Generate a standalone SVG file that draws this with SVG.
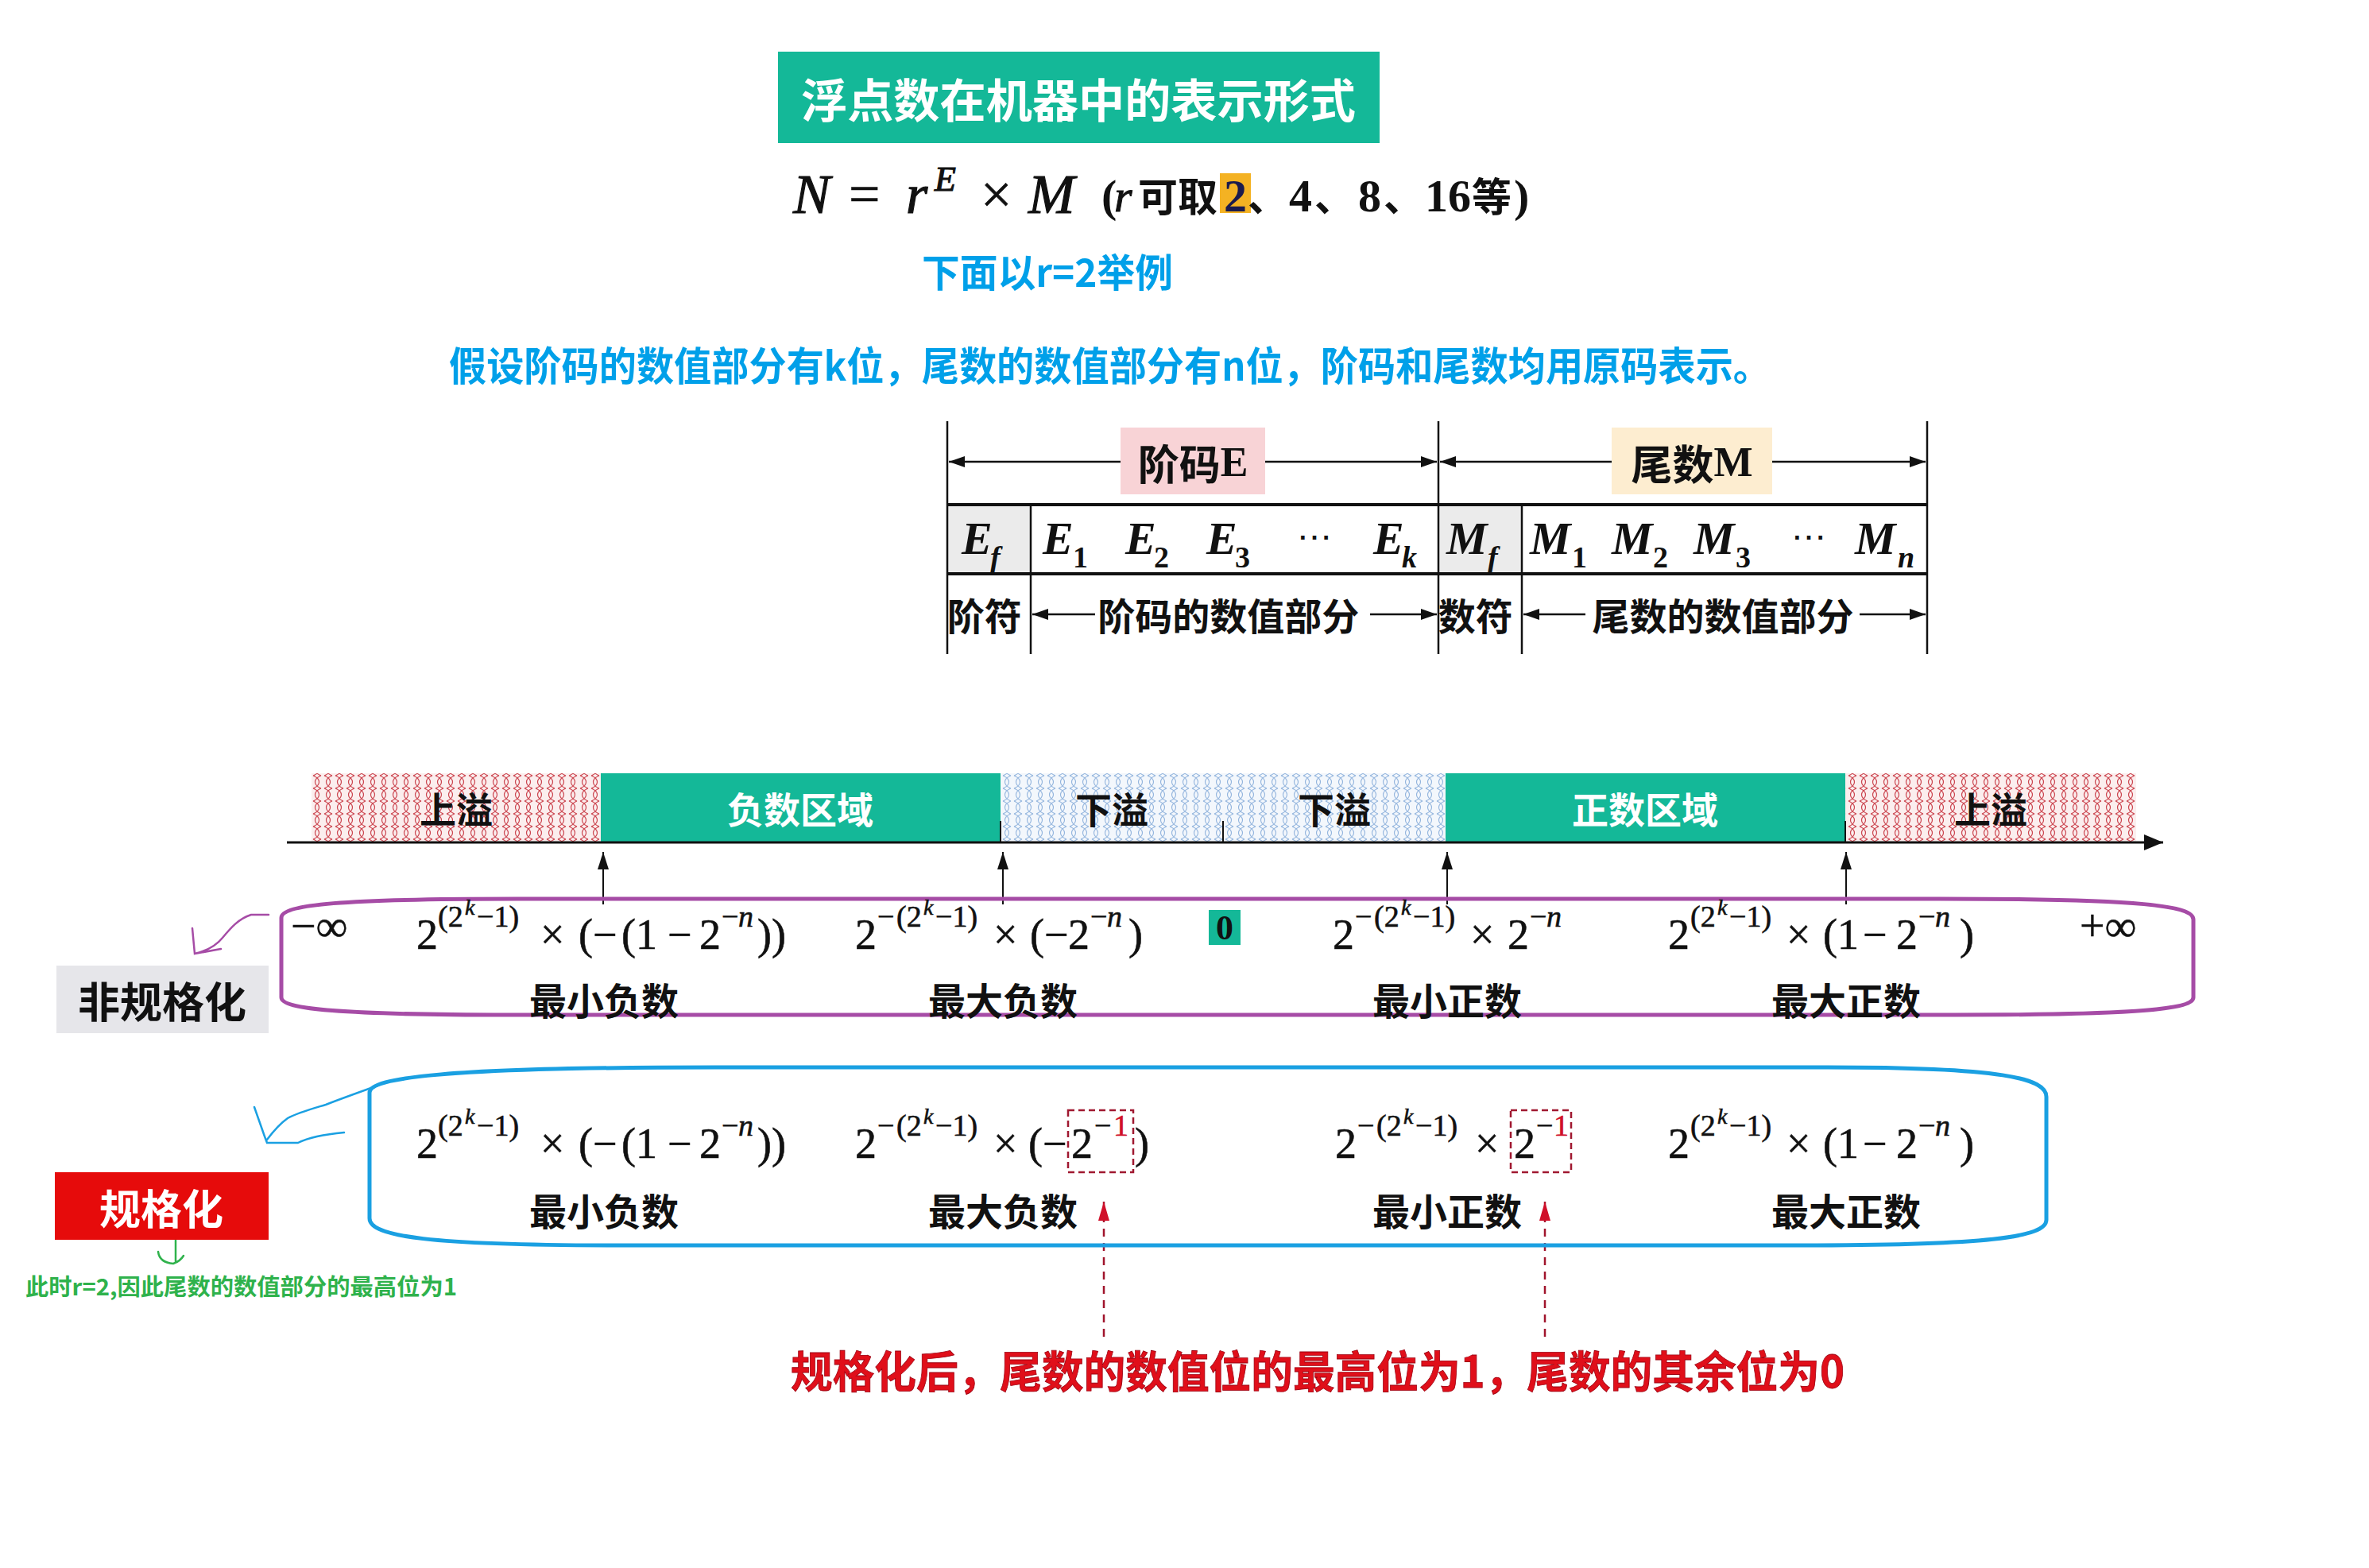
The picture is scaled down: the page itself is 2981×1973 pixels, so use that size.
<svg xmlns="http://www.w3.org/2000/svg" width="2981" height="1973" viewBox="0 0 2981 1973">
<style>
.cjk{font-family:"Noto Sans CJK SC","Noto Sans",sans-serif;font-weight:700}
.m{font-family:"Liberation Serif","DejaVu Serif",serif;fill:#111}
.e{font-size:54px;stroke:#111;stroke-width:0.6}
.s{font-size:38px}
.ss{font-size:28px;font-style:italic}
.si{font-size:38px;font-style:italic}
.red{fill:#d0102a;stroke:#d0102a}
.lbl{font-size:47px;fill:#111;text-anchor:middle;dominant-baseline:central}
.bar{font-size:46px;text-anchor:middle;dominant-baseline:central}
.cell{font-family:"Liberation Serif","DejaVu Serif",serif;font-style:italic;font-weight:700;font-size:58px;fill:#111}
.sub{font-size:38px}
.tl{stroke:#111;stroke-width:2.5;fill:none}
.ax{stroke:#111;stroke-width:2;fill:none}
</style>
<defs>
<pattern id="hr" width="14" height="16" patternUnits="userSpaceOnUse">
<rect width="14" height="16" fill="#fbeeee"/>
<path d="M2 0 C12 4 12 12 2 16 M12 0 C2 4 2 12 12 16" fill="none" stroke="#cc4650" stroke-width="1.2"/>
</pattern>
<pattern id="hb" width="14" height="16" patternUnits="userSpaceOnUse">
<rect width="14" height="16" fill="#f3f7fc"/>
<path d="M2 0 C12 4 12 12 2 16 M12 0 C2 4 2 12 12 16" fill="none" stroke="#93b5de" stroke-width="1.1"/>
</pattern>
<marker id="ah" viewBox="0 0 20 14" refX="20" refY="7" markerWidth="20" markerHeight="14" markerUnits="userSpaceOnUse" orient="auto-start-reverse">
<path d="M0 0 L20 7 L0 14 Z" fill="#111"/>
</marker>
<marker id="ahs" viewBox="0 0 14 22" refX="7" refY="0" markerWidth="14" markerHeight="22" markerUnits="userSpaceOnUse" orient="0">
<path d="M7 0 L14 22 L0 22 Z" fill="#111"/>
</marker>
<marker id="ahr" viewBox="0 0 14 24" refX="7" refY="0" markerWidth="14" markerHeight="24" markerUnits="userSpaceOnUse" orient="0">
<path d="M7 0 L14 24 L0 24 Z" fill="#d0102a"/>
</marker>
<marker id="axh" viewBox="0 0 24 20" refX="24" refY="10" markerWidth="24" markerHeight="20" markerUnits="userSpaceOnUse" orient="auto">
<path d="M0 0 L24 10 L0 20 Z" fill="#111"/>
</marker>
</defs>
<rect width="2981" height="1973" fill="#fff"/>

<!-- Title -->
<g id="title">
<rect x="979" y="65" width="757" height="115" fill="#14b898"/>
<text class="cjk" x="1008" y="123" font-size="58" fill="#fff" dominant-baseline="central" textLength="698" lengthAdjust="spacingAndGlyphs">浮点数在机器中的表示形式</text>
</g>

<!-- Formula -->
<g id="formula">
<rect x="1535" y="218" width="39" height="50" fill="#f4b223"/>
<text class="m" font-size="70" font-style="italic" stroke="#111" stroke-width="1.2">
<tspan x="998" y="268">N</tspan>
<tspan x="1068" y="268" font-style="normal" stroke-width="0.6">=</tspan>
<tspan x="1140" y="268">r</tspan>
<tspan x="1176" y="240" font-size="44">E</tspan>
<tspan x="1234" y="268" font-style="normal" stroke-width="0.6">×</tspan>
<tspan x="1294" y="268">M</tspan>
</text>
<text class="m" font-size="58" font-weight="700">
<tspan x="1386" y="266">(</tspan>
<tspan x="1402" y="266" font-style="italic" font-weight="400" stroke="#111" stroke-width="1">r</tspan>
</text>
<text class="cjk" x="1432" y="266" font-size="50" fill="#111">可取</text>
<text class="m" font-size="58" font-weight="700">
<tspan x="1540" y="266" fill="#1b1b4d">2</tspan>
<tspan x="1622" y="266">4</tspan>
<tspan x="1709" y="266">8</tspan>
<tspan x="1793" y="266">16</tspan>
<tspan x="1905" y="266">)</tspan>
</text>
<text class="cjk" font-size="50" fill="#111">
<tspan x="1570" y="266">、</tspan>
<tspan x="1654" y="266">、</tspan>
<tspan x="1741" y="266">、</tspan>
<tspan x="1852" y="266">等</tspan>
</text>
</g>

<text id="example" class="cjk" x="1160" y="339" font-size="49" fill="#00a0e9" dominant-baseline="central" textLength="316" lengthAdjust="spacingAndGlyphs">下面以r=2举例</text>
<text id="assume" class="cjk" x="565" y="457" font-size="50" fill="#00a0e9" dominant-baseline="central" textLength="1663" lengthAdjust="spacingAndGlyphs">假设阶码的数值部分有k位，尾数的数值部分有n位，阶码和尾数均用原码表示。</text>

<!-- Format table -->
<g id="format-table">
<rect x="1410" y="538" width="182" height="84" fill="#f8d3d6"/>
<rect x="2028" y="538" width="202" height="84" fill="#fdedd0"/>
<rect x="1192" y="635" width="105" height="87" fill="#ebebeb"/>
<rect x="1810" y="635" width="105" height="87" fill="#ebebeb"/>
<line class="tl" x1="1192" y1="530" x2="1192" y2="823"/>
<line class="tl" x1="1297" y1="635" x2="1297" y2="823"/>
<line class="tl" x1="1810" y1="530" x2="1810" y2="823"/>
<line class="tl" x1="1915" y1="635" x2="1915" y2="823"/>
<line class="tl" x1="2425" y1="530" x2="2425" y2="823"/>
<line x1="1192" y1="635" x2="2425" y2="635" stroke="#111" stroke-width="4"/>
<line x1="1192" y1="722" x2="2425" y2="722" stroke="#111" stroke-width="4"/>
<line class="tl" x1="1410" y1="581" x2="1194" y2="581" marker-end="url(#ah)"/>
<line class="tl" x1="1592" y1="581" x2="1808" y2="581" marker-end="url(#ah)"/>
<line class="tl" x1="2028" y1="581" x2="1812" y2="581" marker-end="url(#ah)"/>
<line class="tl" x1="2230" y1="581" x2="2423" y2="581" marker-end="url(#ah)"/>
<text x="1501" y="581" font-size="52" fill="#111" text-anchor="middle" dominant-baseline="central"><tspan class="cjk">阶码</tspan><tspan font-family="Liberation Serif, serif" font-weight="700">E</tspan></text>
<text x="2129" y="581" font-size="52" fill="#111" text-anchor="middle" dominant-baseline="central"><tspan class="cjk">尾数</tspan><tspan font-family="Liberation Serif, serif" font-weight="700">M</tspan></text>
<text class="cell">
<tspan x="1210" y="697">E</tspan><tspan class="sub" x="1246" y="714">f</tspan>
<tspan x="1312" y="697">E</tspan><tspan class="sub" x="1350" y="714" font-style="normal">1</tspan>
<tspan x="1416" y="697">E</tspan><tspan class="sub" x="1452" y="714" font-style="normal">2</tspan>
<tspan x="1518" y="697">E</tspan><tspan class="sub" x="1554" y="714" font-style="normal">3</tspan>
<tspan x="1632" y="690" font-style="normal" font-weight="400" font-size="44">⋯</tspan>
<tspan x="1728" y="697">E</tspan><tspan class="sub" x="1764" y="714">k</tspan>
<tspan x="1820" y="697">M</tspan><tspan class="sub" x="1872" y="714">f</tspan>
<tspan x="1925" y="697">M</tspan><tspan class="sub" x="1978" y="714" font-style="normal">1</tspan>
<tspan x="2028" y="697">M</tspan><tspan class="sub" x="2080" y="714" font-style="normal">2</tspan>
<tspan x="2131" y="697">M</tspan><tspan class="sub" x="2184" y="714" font-style="normal">3</tspan>
<tspan x="2254" y="690" font-style="normal" font-weight="400" font-size="44">⋯</tspan>
<tspan x="2334" y="697">M</tspan><tspan class="sub" x="2388" y="714">n</tspan>
</text>
<text class="cjk" font-size="47" fill="#111" text-anchor="middle" dominant-baseline="central">
<tspan x="1244" y="772">阶符</tspan>
<tspan x="1551" y="772">阶码的数值部分</tspan>
<tspan x="1862" y="772">数符</tspan>
<tspan x="2168" y="772">尾数的数值部分</tspan>
</text>
<line class="tl" x1="1378" y1="773" x2="1299" y2="773" marker-end="url(#ah)"/>
<line class="tl" x1="1724" y1="773" x2="1808" y2="773" marker-end="url(#ah)"/>
<line class="tl" x1="1995" y1="773" x2="1917" y2="773" marker-end="url(#ah)"/>
<line class="tl" x1="2340" y1="773" x2="2423" y2="773" marker-end="url(#ah)"/>
</g>

<!-- Number line -->
<g id="number-line">
<rect x="392" y="973" width="364" height="87" fill="url(#hr)"/>
<rect x="756" y="973" width="503" height="87" fill="#14b898"/>
<rect x="1259" y="973" width="280" height="87" fill="url(#hb)"/>
<rect x="1539" y="973" width="280" height="87" fill="url(#hb)"/>
<rect x="1819" y="973" width="503" height="87" fill="#14b898"/>
<rect x="2322" y="973" width="366" height="87" fill="url(#hr)"/>
<line x1="361" y1="1060" x2="2722" y2="1060" stroke="#111" stroke-width="3" marker-end="url(#axh)"/>
<line class="ax" x1="1259" y1="1033" x2="1259" y2="1060"/>
<line class="ax" x1="1539" y1="1033" x2="1539" y2="1060"/>
<line class="ax" x1="2322" y1="1033" x2="2322" y2="1060"/>
<text class="cjk bar" x="574" y="1016" fill="#111">上溢</text>
<text class="cjk bar" x="1007" y="1016" fill="#fff">负数区域</text>
<text class="cjk bar" x="1399" y="1016" fill="#111">下溢</text>
<text class="cjk bar" x="1679" y="1016" fill="#111">下溢</text>
<text class="cjk bar" x="2070" y="1016" fill="#fff">正数区域</text>
<text class="cjk bar" x="2505" y="1016" fill="#111">上溢</text>
</g>

<!-- connectors (up arrows to axis, hand-drawn pointers, red dashed) -->
<g id="connectors">
<line class="ax" x1="759" y1="1138" x2="759" y2="1072" marker-end="url(#ahs)"/>
<line class="ax" x1="1262" y1="1138" x2="1262" y2="1072" marker-end="url(#ahs)"/>
<line class="ax" x1="1821" y1="1138" x2="1821" y2="1072" marker-end="url(#ahs)"/>
<line class="ax" x1="2323" y1="1138" x2="2323" y2="1072" marker-end="url(#ahs)"/>
<path d="M338 1151 L316 1151 C300 1156 290 1168 280 1180 C272 1190 262 1196 245 1200 M242 1168 L245 1200 L278 1194" fill="none" stroke="#a64ca6" stroke-width="2.5" stroke-linecap="round"/>
<path d="M478 1365 C450 1375 425 1384 410 1390 C390 1396 375 1400 362 1407 C355 1412 345 1422 336 1434 M320 1393 L333 1430 L336 1438 L375 1438 C385 1433 400 1428 433 1425" fill="none" stroke="#1aa0e2" stroke-width="2.5" stroke-linecap="round"/>
<path d="M221 1555 L221 1588 M199 1575 C200 1583 205 1589 218 1590 C224 1588 228 1585 231 1580" fill="none" stroke="#2fb24c" stroke-width="2.5" stroke-linecap="round"/>
<line x1="1389" y1="1682" x2="1389" y2="1512" stroke="#a0142c" stroke-width="2.5" stroke-dasharray="10 8" marker-end="url(#ahr)"/>
<line x1="1944" y1="1682" x2="1944" y2="1512" stroke="#a0142c" stroke-width="2.5" stroke-dasharray="10 8" marker-end="url(#ahr)"/>
</g>

<!-- Non-normalized -->
<g id="non-normalized">
<rect x="71" y="1215" width="267" height="85" fill="#e6e6ea"/>
<text class="cjk" x="204" y="1258" font-size="53" fill="#111" text-anchor="middle" dominant-baseline="central">非规格化</text>
<path d="M354 1255 L354 1155 C354 1138 430 1131 650 1131 L2440 1131 C2700 1131 2760 1140 2760 1157 L2760 1255 C2760 1269 2700 1277 2460 1277 L640 1277 C430 1277 354 1270 354 1255 Z" fill="none" stroke="#a64ca6" stroke-width="5"/>
<text class="m" font-size="56" stroke="#111" stroke-width="0.5"><tspan x="366" y="1184">−∞</tspan><tspan x="2617" y="1184">+∞</tspan></text>
<rect x="1521" y="1145" width="40" height="44" fill="#14b898"/>
<text class="m" x="1541" y="1182" font-size="44" font-weight="700" text-anchor="middle">0</text>
<text class="m e">
<tspan x="524" y="1194">2</tspan><tspan class="s" x="551" y="1166">(2</tspan><tspan class="ss" x="585" y="1151">k</tspan><tspan class="s" x="600" y="1166">−1)</tspan>
<tspan x="680" y="1194">×</tspan><tspan x="728" y="1194">(</tspan><tspan x="746" y="1194">−</tspan><tspan x="782" y="1194">(1</tspan><tspan x="840" y="1194">−</tspan><tspan x="880" y="1194">2</tspan><tspan class="s" x="908" y="1166">−</tspan><tspan class="si" x="929" y="1166">n</tspan><tspan x="953" y="1194">))</tspan>
</text>
<text class="m e">
<tspan x="1076" y="1194">2</tspan><tspan class="s" x="1104" y="1166">−</tspan><tspan class="s" x="1128" y="1166">(2</tspan><tspan class="ss" x="1162" y="1151">k</tspan><tspan class="s" x="1177" y="1166">−1)</tspan>
<tspan x="1250" y="1194">×</tspan><tspan x="1296" y="1194">(</tspan><tspan x="1314" y="1194">−</tspan><tspan x="1344" y="1194">2</tspan><tspan class="s" x="1372" y="1166">−</tspan><tspan class="si" x="1393" y="1166">n</tspan><tspan x="1420" y="1194">)</tspan>
</text>
<text class="m e">
<tspan x="1677" y="1194">2</tspan><tspan class="s" x="1705" y="1166">−</tspan><tspan class="s" x="1729" y="1166">(2</tspan><tspan class="ss" x="1763" y="1151">k</tspan><tspan class="s" x="1778" y="1166">−1)</tspan>
<tspan x="1850" y="1194">×</tspan><tspan x="1897" y="1194">2</tspan><tspan class="s" x="1925" y="1166">−</tspan><tspan class="si" x="1946" y="1166">n</tspan>
</text>
<text class="m e">
<tspan x="2099" y="1194">2</tspan><tspan class="s" x="2127" y="1166">(2</tspan><tspan class="ss" x="2161" y="1151">k</tspan><tspan class="s" x="2176" y="1166">−1)</tspan>
<tspan x="2248" y="1194">×</tspan><tspan x="2294" y="1194">(1</tspan><tspan x="2344" y="1194">−</tspan><tspan x="2386" y="1194">2</tspan><tspan class="s" x="2414" y="1166">−</tspan><tspan class="si" x="2435" y="1166">n</tspan><tspan x="2466" y="1194">)</tspan>
</text>
<text class="cjk lbl" x="760" y="1256">最小负数</text>
<text class="cjk lbl" x="1262" y="1256">最大负数</text>
<text class="cjk lbl" x="1821" y="1256">最小正数</text>
<text class="cjk lbl" x="2323" y="1256">最大正数</text>
</g>

<!-- Normalized -->
<g id="normalized">
<rect x="69" y="1475" width="269" height="85" fill="#e60b0b"/>
<text class="cjk" x="203" y="1518" font-size="52" fill="#fff" text-anchor="middle" dominant-baseline="central">规格化</text>
<path d="M465 1533 L465 1375 C465 1356 560 1343 900 1343 L2300 1343 C2520 1343 2575 1357 2575 1380 L2575 1535 C2575 1557 2500 1567 2262 1567 L780 1567 C540 1567 465 1556 465 1533 Z" fill="none" stroke="#1aa0e2" stroke-width="5"/>
<text class="m e">
<tspan x="524" y="1457">2</tspan><tspan class="s" x="551" y="1429">(2</tspan><tspan class="ss" x="585" y="1414">k</tspan><tspan class="s" x="600" y="1429">−1)</tspan>
<tspan x="680" y="1457">×</tspan><tspan x="728" y="1457">(</tspan><tspan x="746" y="1457">−</tspan><tspan x="782" y="1457">(1</tspan><tspan x="840" y="1457">−</tspan><tspan x="880" y="1457">2</tspan><tspan class="s" x="908" y="1429">−</tspan><tspan class="si" x="929" y="1429">n</tspan><tspan x="953" y="1457">))</tspan>
</text>
<text class="m e">
<tspan x="1076" y="1457">2</tspan><tspan class="s" x="1104" y="1429">−</tspan><tspan class="s" x="1128" y="1429">(2</tspan><tspan class="ss" x="1162" y="1414">k</tspan><tspan class="s" x="1177" y="1429">−1)</tspan>
<tspan x="1250" y="1457">×</tspan><tspan x="1294" y="1457">(</tspan><tspan x="1312" y="1457">−</tspan><tspan x="1348" y="1457">2</tspan><tspan class="s" x="1377" y="1429">−</tspan><tspan class="s red" x="1401" y="1429">1</tspan><tspan x="1428" y="1457">)</tspan>
</text>
<text class="m e">
<tspan x="1680" y="1457">2</tspan><tspan class="s" x="1708" y="1429">−</tspan><tspan class="s" x="1732" y="1429">(2</tspan><tspan class="ss" x="1766" y="1414">k</tspan><tspan class="s" x="1781" y="1429">−1)</tspan>
<tspan x="1856" y="1457">×</tspan><tspan x="1905" y="1457">2</tspan><tspan class="s" x="1933" y="1429">−</tspan><tspan class="s red" x="1955" y="1429">1</tspan>
</text>
<text class="m e">
<tspan x="2099" y="1457">2</tspan><tspan class="s" x="2127" y="1429">(2</tspan><tspan class="ss" x="2161" y="1414">k</tspan><tspan class="s" x="2176" y="1429">−1)</tspan>
<tspan x="2248" y="1457">×</tspan><tspan x="2294" y="1457">(1</tspan><tspan x="2344" y="1457">−</tspan><tspan x="2386" y="1457">2</tspan><tspan class="s" x="2414" y="1429">−</tspan><tspan class="si" x="2435" y="1429">n</tspan><tspan x="2466" y="1457">)</tspan>
</text>
<rect x="1344" y="1397" width="82" height="78" fill="none" stroke="#a01830" stroke-width="2.5" stroke-dasharray="8 5"/>
<rect x="1901" y="1397" width="76" height="78" fill="none" stroke="#a01830" stroke-width="2.5" stroke-dasharray="8 5"/>
<text class="cjk lbl" x="760" y="1521">最小负数</text>
<text class="cjk lbl" x="1262" y="1521">最大负数</text>
<text class="cjk lbl" x="1821" y="1521">最小正数</text>
<text class="cjk lbl" x="2323" y="1521">最大正数</text>
</g>

<text id="note-green" class="cjk" x="32" y="1617" font-size="29" fill="#2fb24c" dominant-baseline="central" textLength="543" lengthAdjust="spacingAndGlyphs">此时r=2,因此尾数的数值部分的最高位为1</text>
<text id="note-red" class="cjk" x="995" y="1722" font-size="55" fill="#e00f1a" stroke="#9a0010" stroke-width="0.8" dominant-baseline="central" textLength="1326" lengthAdjust="spacingAndGlyphs">规格化后，尾数的数值位的最高位为1，尾数的其余位为0</text>
</svg>
